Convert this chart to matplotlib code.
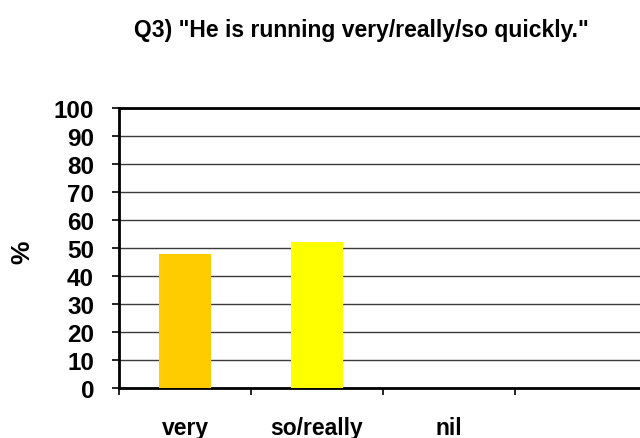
import matplotlib
matplotlib.use("Agg")
import matplotlib.pyplot as plt

categories = ["very", "so/really", "nil", ""]
percent = [48, 52, 0, 0]
bar_colors = ["#FFCC00", "#FFFF00", "#FFFF99", "#CCFFFF"]
yticks = list(range(0, 101, 10))

plt.rcParams["font.family"] = ["Liberation Sans", "DejaVu Sans"]
plt.rcParams["font.weight"] = "bold"

fig = plt.figure(figsize=(6.4, 4.39), dpi=100)
# plot area runs past the right edge of the figure
ax = fig.add_axes([119 / 640, 50 / 439, 528 / 640, 280 / 439])

x = list(range(len(categories)))
ax.bar(x, percent, width=0.4, color=bar_colors, zorder=3)

ax.set_xlim(-0.5, len(categories) - 0.5)
ax.set_ylim(0, 100)
ax.set_yticks(yticks)
ax.set_yticklabels([str(t) for t in yticks], fontsize=17.5, fontweight="bold")
ax.yaxis.grid(True, color="#3a3a3a", linewidth=1.0, zorder=1)
ax.set_axisbelow(True)

# boundary ticks between categories, labels centred on the bars
ax.set_xticks([i - 0.5 for i in range(len(categories) + 1)])
ax.set_xticklabels([])
ax.set_xticks(x, minor=True)
ax.set_xticklabels(categories, minor=True, fontsize=16.5, fontweight="bold")
ax.tick_params(axis="x", which="minor", length=0, pad=20)
ax.tick_params(axis="x", which="major", length=5, width=1.2, direction="out")
ax.tick_params(axis="y", length=5, width=1.2, direction="out", pad=13)

for side in ["left", "bottom", "top", "right"]:
    ax.spines[side].set_linewidth(2)
    ax.spines[side].set_color("black")

ax.set_ylabel("%", fontsize=19, fontweight="bold", va="center")
ax.yaxis.set_label_coords(-97 / 528, 0.49)

fig.text(361 / 640, 1 - 31 / 439, 'Q3) "He is running very/really/so quickly."',
         ha="center", va="center", fontsize=16.5, fontweight="bold")

fig.savefig("out.png", dpi=100)
